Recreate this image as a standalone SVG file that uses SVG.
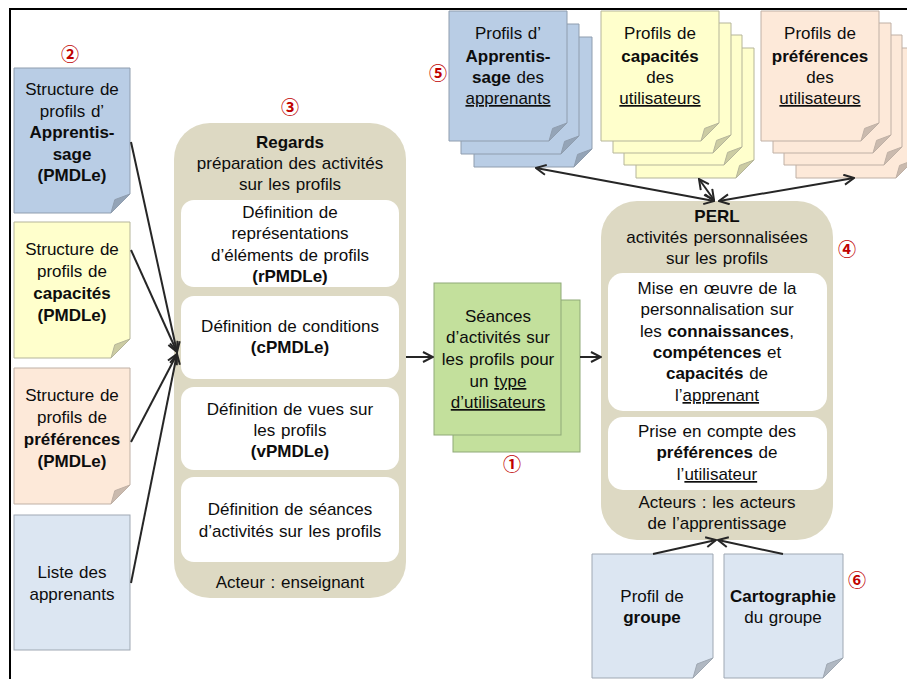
<svg xmlns="http://www.w3.org/2000/svg" width="907" height="679" viewBox="0 0 907 679">
<defs>
<marker id="ah" viewBox="0 0 12 12" refX="11" refY="6" markerWidth="12" markerHeight="12" markerUnits="userSpaceOnUse" orient="auto-start-reverse">
<path d="M1,1 L11,6 L1,11" fill="none" stroke="#262626" stroke-width="2" stroke-linejoin="miter"/>
</marker>
</defs>
<style>
text{font-family:"Liberation Sans",Arial,sans-serif;font-size:17px;word-spacing:1px;fill:#0d0d0d;text-anchor:middle}
.b{font-weight:bold}
.u{text-decoration:underline}
.num{font-family:"Noto Sans CJK JP","DejaVu Sans",sans-serif;font-size:18px;fill:#c00000;font-weight:bold}
.blue{fill:#b9cde5;stroke:#8f9dae;stroke-width:1}
.bluef{fill:#94a4b7;stroke:#8f9dae;stroke-width:1}
.yel{fill:#ffffcc;stroke:#b5b59a;stroke-width:1}
.yelf{fill:#cccca3;stroke:#b5b59a;stroke-width:1}
.sal{fill:#fde9d9;stroke:#bfb0a5;stroke-width:1}
.salf{fill:#cabaae;stroke:#bfb0a5;stroke-width:1}
.lb{fill:#dce6f2;stroke:#9fa8b3;stroke-width:1}
.lbf{fill:#b0b8c2;stroke:#9fa8b3;stroke-width:1}
.grn{fill:#c3e09c;stroke:#8fa978;stroke-width:1}
.beige{fill:#ddd9c3}
.white{fill:#ffffff}
.conn{stroke:#262626;stroke-width:2;fill:none}
</style>
<rect width="907" height="679" fill="#ffffff"/>
<path d="M9,9 H907 M10,9 V679" stroke="#000" stroke-width="2" fill="none"/>

<g id="struct-apprentissage">
<path class="blue" d="M14 68 H130 V194 L111 213 H14 Z"/>
<path class="bluef" d="M111 213 L114.8 199.7 L130 194 Z"/>
<text x="72" y="95">Structure de</text>
<text x="72" y="117">profils d’</text>
<text x="72" y="138" class="b">Apprentis-</text>
<text x="72" y="160" class="b">sage</text>
<text x="72" y="181" class="b">(PMDLe)</text>
</g>
<g id="struct-capacites">
<path class="yel" d="M14 222 H130 V339 L111 358 H14 Z"/>
<path class="yelf" d="M111 358 L114.8 344.7 L130 339 Z"/>
<text x="72" y="255">Structure de</text>
<text x="72" y="277">profils de</text>
<text x="72" y="299" class="b">capacités</text>
<text x="72" y="321" class="b">(PMDLe)</text>
</g>
<g id="struct-preferences">
<path class="sal" d="M14 368 H130 V485 L111 504 H14 Z"/>
<path class="salf" d="M111 504 L114.8 490.7 L130 485 Z"/>
<text x="72" y="401">Structure de</text>
<text x="72" y="423">profils de</text>
<text x="72" y="445" class="b">préférences</text>
<text x="72" y="467" class="b">(PMDLe)</text>
</g>
<g id="liste-apprenants">
<rect class="lb" x="14" y="515" width="116" height="135"/>
<text x="72" y="578">Liste des</text>
<text x="72" y="600">apprenants</text>
</g>

<g id="regards">
<rect class="beige" x="174" y="123" width="232" height="475" rx="36" ry="36"/>
<text x="290" y="148" class="b">Regards</text>
<text x="290" y="169">préparation des activités</text>
<text x="290" y="190">sur les profils</text>
<rect class="white" x="181" y="200" width="218" height="87" rx="13"/>
<text x="290" y="218">Définition de</text>
<text x="290" y="239">représentations</text>
<text x="290" y="261">d’éléments de profils</text>
<text x="290" y="282" class="b">(rPMDLe)</text>
<rect class="white" x="181" y="296" width="218" height="83" rx="13"/>
<text x="290" y="332">Définition de conditions</text>
<text x="290" y="353" class="b">(cPMDLe)</text>
<rect class="white" x="181" y="387" width="218" height="83" rx="13"/>
<text x="290" y="415">Définition de vues sur</text>
<text x="290" y="436">les profils</text>
<text x="290" y="457" class="b">(vPMDLe)</text>
<rect class="white" x="181" y="477" width="218" height="85" rx="13"/>
<text x="290" y="515">Définition de séances</text>
<text x="290" y="537">d’activités sur les profils</text>
<text x="290" y="588">Acteur : enseignant</text>
</g>

<g id="seances">
<rect class="grn" x="453" y="300" width="127" height="152"/>
<rect class="grn" x="434" y="283" width="127" height="152"/>
<text x="498" y="322">Séances</text>
<text x="498" y="343">d’activités sur</text>
<text x="498" y="365">les profils pour</text>
<text x="498" y="387">un <tspan class="u">type</tspan></text>
<text x="498" y="408" class="u">d’utilisateurs</text>
</g>

<g id="perl">
<rect class="beige" x="601" y="201" width="232" height="339" rx="36" ry="36"/>
<text x="717" y="222" class="b">PERL</text>
<text x="717" y="243">activités personnalisées</text>
<text x="717" y="264">sur les profils</text>
<rect class="white" x="608" y="273" width="219" height="138" rx="15"/>
<text x="717" y="294">Mise en œuvre de la</text>
<text x="717" y="315">personnalisation sur</text>
<text x="717" y="337">les <tspan class="b">connaissances</tspan>,</text>
<text x="717" y="358"><tspan class="b">compétences</tspan> et</text>
<text x="717" y="379"><tspan class="b">capacités</tspan> de</text>
<text x="717" y="401">l’<tspan class="u">apprenant</tspan></text>
<rect class="white" x="608" y="417" width="219" height="73" rx="15"/>
<text x="717" y="437">Prise en compte des</text>
<text x="717" y="458"><tspan class="b">préférences</tspan> de</text>
<text x="717" y="480">l’<tspan class="u">utilisateur</tspan></text>
<text x="717" y="508">Acteurs : les acteurs</text>
<text x="717" y="529">de l’apprentissage</text>
</g>

<g id="profils-apprentissage">
<path class="blue" d="M474 37 H592 V149 L574 167 H474 Z"/>
<path class="bluef" d="M574 167 L577.6 154.4 L592 149 Z"/>
<path class="blue" d="M461 24 H579 V136 L561 154 H461 Z"/>
<path class="bluef" d="M561 154 L564.6 141.4 L579 136 Z"/>
<path class="blue" d="M449 11 H567 V123 L549 141 H449 Z"/>
<path class="bluef" d="M549 141 L552.6 128.4 L567 123 Z"/>
<text x="508" y="39">Profils d’</text>
<text x="508" y="62" class="b">Apprentis-</text>
<text x="508" y="83"><tspan class="b">sage</tspan> des</text>
<text x="508" y="104" class="u">apprenants</text>
</g>

<g id="profils-capacites">
<path class="yel" d="M636 48 H754 V160 L736 178 H636 Z"/>
<path class="yelf" d="M736 178 L739.6 165.4 L754 160 Z"/>
<path class="yel" d="M624 35 H742 V147 L724 165 H624 Z"/>
<path class="yelf" d="M724 165 L727.6 152.4 L742 147 Z"/>
<path class="yel" d="M613 23 H731 V135 L713 153 H613 Z"/>
<path class="yelf" d="M713 153 L716.6 140.4 L731 135 Z"/>
<path class="yel" d="M601 11 H719 V123 L701 141 H601 Z"/>
<path class="yelf" d="M701 141 L704.6 128.4 L719 123 Z"/>
<text x="660" y="39">Profils de</text>
<text x="660" y="62" class="b">capacités</text>
<text x="660" y="83">des</text>
<text x="660" y="104" class="u">utilisateurs</text>
</g>

<g id="profils-preferences">
<path class="sal" d="M796 48 H914 V160 L896 178 H796 Z"/>
<path class="salf" d="M896 178 L899.6 165.4 L914 160 Z"/>
<path class="sal" d="M784 35 H902 V147 L884 165 H784 Z"/>
<path class="salf" d="M884 165 L887.6 152.4 L902 147 Z"/>
<path class="sal" d="M773 23 H891 V135 L873 153 H773 Z"/>
<path class="salf" d="M873 153 L876.6 140.4 L891 135 Z"/>
<path class="sal" d="M761 11 H879 V123 L861 141 H761 Z"/>
<path class="salf" d="M861 141 L864.6 128.4 L879 123 Z"/>
<text x="820" y="39">Profils de</text>
<text x="820" y="62" class="b">préférences</text>
<text x="820" y="83">des</text>
<text x="820" y="104" class="u">utilisateurs</text>
</g>

<g id="profil-groupe">
<path class="lb" d="M592 554 H713 V658 L693 678 H592 Z"/>
<path class="lbf" d="M693 678 L697 664 L713 658 Z"/>
<text x="652" y="602">Profil de</text>
<text x="652" y="623" class="b">groupe</text>
</g>
<g id="cartographie">
<path class="lb" d="M724 554 H843 V658 L823 678 H724 Z"/>
<path class="lbf" d="M823 678 L827 664 L843 658 Z"/>
<text x="783" y="602" class="b">Cartographie</text>
<text x="783" y="623">du groupe</text>
</g>

<g id="numbers">
<text class="num" x="70" y="61">②</text>
<text class="num" x="290" y="114">③</text>
<text class="num" x="438" y="80">⑤</text>
<text class="num" x="512" y="471">①</text>
<text class="num" x="847" y="256">④</text>
<text class="num" x="857" y="587">⑥</text>
</g>

<g id="connectors">
<line class="conn" x1="131" y1="142" x2="177" y2="352" marker-end="url(#ah)"/>
<line class="conn" x1="131" y1="250" x2="177" y2="352" marker-end="url(#ah)"/>
<line class="conn" x1="131" y1="442" x2="177" y2="354" marker-end="url(#ah)"/>
<line class="conn" x1="131" y1="583" x2="177" y2="354" marker-end="url(#ah)"/>
<line class="conn" x1="406" y1="357" x2="433" y2="357" marker-end="url(#ah)"/>
<line class="conn" x1="580" y1="357" x2="601" y2="357" marker-end="url(#ah)"/>
<line class="conn" x1="536" y1="168" x2="714" y2="201" marker-start="url(#ah)" marker-end="url(#ah)"/>
<line class="conn" x1="699" y1="179" x2="714" y2="200" marker-start="url(#ah)" marker-end="url(#ah)"/>
<line class="conn" x1="854" y1="178" x2="719" y2="201" marker-start="url(#ah)" marker-end="url(#ah)"/>
<line class="conn" x1="653" y1="554" x2="716" y2="540" marker-end="url(#ah)"/>
<line class="conn" x1="783" y1="554" x2="718" y2="540" marker-end="url(#ah)"/>
</g>
</svg>
